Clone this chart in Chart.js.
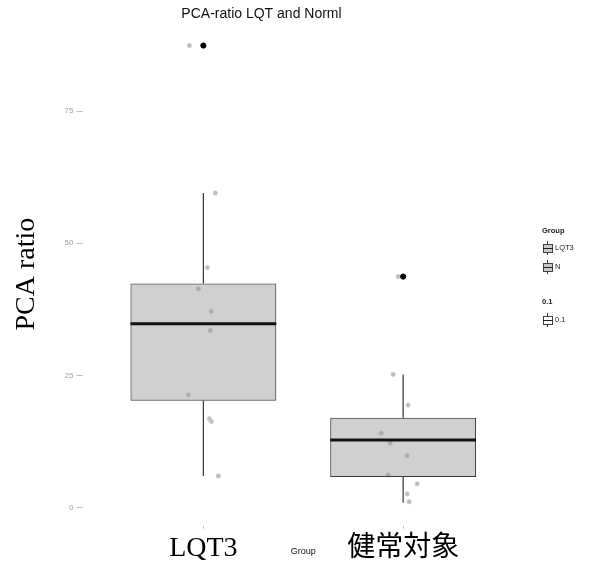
<!DOCTYPE html>
<html>
<head>
<meta charset="utf-8">
<script src="https://cdn.jsdelivr.net/npm/chart.js@4"></script>
<style>
  html, body { margin: 0; padding: 0; background: #fff; }
  #wrap { position: relative; width: 602px; height: 567px; }
  .lg { position: absolute; font-family: "Liberation Sans", Arial, sans-serif; font-size: 7.5px; color: #222; line-height: 10px; }
  .lg b { font-weight: bold; }
  .key { position: absolute; width: 9px; height: 14px; }
  .key .wh { position: absolute; left: 4px; top: 0; width: 1px; height: 14px; background: #333; }
  .key .bx { position: absolute; left: 0; top: 3px; width: 8px; height: 7px; border: 1px solid #444; background: #c8c8c8; }
  .key .bx.white { background: #fff; }
  .key .md { position: absolute; left: 0; top: 7px; width: 10px; height: 1px; background: #222; }
</style>
</head>
<body>
<div id="wrap">
  <canvas id="boxChart" width="602" height="567"></canvas>

  <div class="lg" style="left:542px; top:226px;"><b>Group</b></div>
  <div class="key" style="left:543px; top:241px;"><div class="wh"></div><div class="bx"></div><div class="md"></div></div>
  <div class="lg" style="left:555px; top:243px;">LQT3</div>
  <div class="key" style="left:543px; top:260px;"><div class="wh"></div><div class="bx"></div><div class="md"></div></div>
  <div class="lg" style="left:555px; top:262px;">N</div>
  <div class="lg" style="left:542px; top:297px;"><b>0.1</b></div>
  <div class="key" style="left:543px; top:313px;"><div class="wh"></div><div class="bx white"></div><div class="md"></div></div>
  <div class="lg" style="left:555px; top:315px;">0.1</div>
</div>

<script>
// box statistics per group
const groups = ["LQT3", "健常対象"];
const whiskerLow = [6.0, 0.9];
const q1 = [20.2, 5.8];
const median = [34.8, 12.8];
const q3 = [42.4, 17.0];
const whiskerHigh = [59.5, 25.2];
const outlierValues = [87.4, 43.7];

// jittered raw points (x = group position with jitter)
const lqt3JitterX = [0.93, 1.06, 1.02, 0.975, 1.04, 1.035, 0.925, 1.03, 1.04, 1.075];
const lqt3JitterY = [87.4, 59.5, 45.4, 41.4, 37.1, 33.5, 21.3, 16.8, 16.3, 6.0];
const normalJitterX = [1.975, 1.95, 2.025, 1.89, 1.935, 2.02, 1.925, 2.07, 2.02, 2.03];
const normalJitterY = [43.7, 25.2, 19.4, 14.1, 12.2, 9.8, 6.2, 4.5, 2.6, 1.1];

const yTicks = [0, 25, 50, 75];

const BOX_WIDTH = 0.73;

document.addEventListener("DOMContentLoaded", function () {
  const ctx = document.getElementById("boxChart").getContext("2d");

  // whiskers only outside the box, median as a short horizontal segment
  const whiskerData = [];
  const medianData = [];
  groups.forEach(function (g, i) {
    const x = i + 1;
    whiskerData.push({ x: x, y: whiskerLow[i] }, { x: x, y: q1[i] }, { x: x, y: null });
    whiskerData.push({ x: x, y: q3[i] }, { x: x, y: whiskerHigh[i] }, { x: x, y: null });
    medianData.push({ x: x - BOX_WIDTH / 2, y: median[i] }, { x: x + BOX_WIDTH / 2, y: median[i] }, { x: x, y: null });
  });

  const jitterData = [];
  lqt3JitterX.forEach(function (x, i) { jitterData.push({ x: x, y: lqt3JitterY[i] }); });
  normalJitterX.forEach(function (x, i) { jitterData.push({ x: x, y: normalJitterY[i] }); });

  new Chart(ctx, {
    type: "bar",
    data: {
      datasets: [
        {
          type: "scatter",
          data: jitterData,
          pointRadius: 2.2,
          pointBackgroundColor: "#bcbcbc",
          pointBorderColor: "#d0d0d0",
          pointBorderWidth: 0.8,
          order: 4,
        },
        {
          type: "bar",
          data: groups.map(function (g, i) { return { x: i + 1, y: [q1[i], q3[i]] }; }),
          backgroundColor: "rgba(150,150,150,0.45)",
          borderColor: "#3a3a3a",
          borderWidth: 1,
          borderSkipped: false,
          grouped: false,
          barPercentage: BOX_WIDTH,
          categoryPercentage: 1,
          order: 3,
        },
        {
          type: "line",
          data: whiskerData,
          borderColor: "#333",
          borderWidth: 1.2,
          pointRadius: 0,
          spanGaps: false,
          order: 2,
        },
        {
          type: "line",
          data: medianData,
          borderColor: "#111",
          borderWidth: 3,
          pointRadius: 0,
          spanGaps: false,
          order: 1,
        },
        {
          type: "scatter",
          data: groups.map(function (g, i) { return { x: i + 1, y: outlierValues[i] }; }),
          pointRadius: 2.6,
          pointBackgroundColor: "#000",
          pointBorderColor: "#000",
          order: 0,
        },
      ],
    },
    options: {
      responsive: false,
      animation: false,
      layout: { padding: { left: 0, right: 79, top: 0, bottom: 0 } },
      plugins: {
        legend: { display: false },
        tooltip: { enabled: false },
        title: {
          display: true,
          text: "PCA-ratio LQT and Norml",
          color: "#111",
          font: { family: "'Liberation Sans', Arial, sans-serif", size: 14, weight: "normal" },
          padding: { top: 6, bottom: 0 },
        },
      },
      scales: {
        x: {
          type: "linear",
          min: 0.4,
          max: 2.6,
          offset: false,
          afterBuildTicks: function (axis) {
            axis.ticks = groups.map(function (g, i) { return { value: i + 1 }; });
          },
          ticks: {
            callback: function (value, index) { return groups[index]; },
            color: "#000",
            padding: 3,
            font: { family: "'Liberation Serif', 'Noto Sans CJK JP', serif", size: 28 },
          },
          grid: { offset: false, drawOnChartArea: false, drawTicks: true, tickLength: 3, color: "#bbb" },
          border: { display: false },
          title: {
            display: true,
            text: "Group",
            color: "#111",
            font: { family: "'Liberation Sans', Arial, sans-serif", size: 9 },
            padding: { top: -22, bottom: 10 },
          },
        },
        y: {
          min: -3.4,
          max: 91.7,
          afterBuildTicks: function (axis) {
            axis.ticks = yTicks.map(function (v) { return { value: v }; });
          },
          ticks: {
            color: "#a0a0a0",
            padding: 3,
            font: { family: "'Liberation Sans', Arial, sans-serif", size: 8 },
          },
          grid: { drawOnChartArea: false, drawTicks: true, tickLength: 7, color: "#c0c0c0" },
          border: { display: false },
          title: {
            display: true,
            text: "PCA ratio",
            color: "#000",
            font: { family: "'Liberation Serif', serif", size: 28 },
            padding: { top: 10, bottom: 18 },
          },
        },
      },
    },
  });
});
</script>
</body>
</html>
